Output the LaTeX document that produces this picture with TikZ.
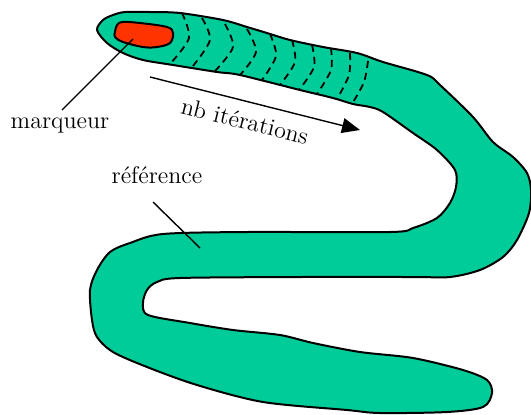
\documentclass[tikz,border=0pt]{standalone}
\usepackage{fontspec}
\usetikzlibrary{arrows.meta}
\definecolor{wormgreen}{RGB}{0,204,153}
\definecolor{markred}{RGB}{255,51,0}

\begin{document}
\begin{tikzpicture}[
    x=0.5pt, y=-0.5pt,
    body/.style={draw, line width=1pt, fill=wormgreen, line join=round},
    marker/.style={draw, line width=1pt, fill=markred},
    ring/.style={line width=0.9pt, dash pattern=on 3.5pt off 2.5pt},
    tag/.style={font=\fontsize{12}{14}\selectfont, inner sep=0pt},
    pointer/.style={line width=0.7pt},
    >={Triangle[length=9pt,width=7.5pt]}
  ]
  \useasboundingbox (0,0) rectangle (531,414);

  % Reference (the worm)
  \draw[body] plot[smooth cycle, tension=0.5] coordinates {
    (97,30) (103,20) (113,15) (125,12) (150,12) (180,13) (223,20) (247,27)
    (267,33) (290,40) (323,47) (357,53) (383,62) (427,75) (440,85) (473,117)
    (493,142) (513,157) (527,173) (531,190) (529,213) (517,240) (503,257)
    (480,270) (450,277) (413,277) (300,277) (180,278) (157,282) (147,290)
    (143,303) (148,315) (190,323) (233,330) (280,335) (313,343) (360,352)
    (413,358) (463,370) (487,380) (492,393) (483,407) (447,412) (380,413)
    (347,410) (263,402) (197,385) (147,367) (113,352) (97,337) (92,320)
    (90,290) (97,270) (110,252) (130,243) (163,234) (247,232) (390,232)
    (413,228) (437,218) (450,203) (456,187) (455,170) (437,150) (413,133)
    (383,112) (370,107) (353,104) (333,98) (300,90) (240,75) (217,72)
    (173,65) (143,60) (123,53) (107,43)};

  % Iterations
  \foreach \tx/\ty/\mx/\my/\bx/\by in {182/13/189/38/170/64, 202/18/210/40/193/66,
      225/24/233/47/215/71, 247/29/256/52/240/75, 270/34/276/56/262/80,
      292/40/295/62/280/85, 312/45/314/67/299/90, 331/48/331/70/317/94,
      350/53/349/75/337/99, 368/61/364/82/352/104} {
    \draw[ring] plot[smooth] coordinates {(\tx,\ty) (\mx,\my) (\bx,\by)};
  }

  % Marker
  \draw[marker] plot[smooth cycle, tension=0.6] coordinates {
    (115,32) (117,25) (123,22) (140,23) (167,27) (173,33) (170,43)
    (157,47) (143,47) (123,42) (115,37)};

  % Labels
  \node[tag] (marq) at (60,125) {marqueur};
  \node[tag] (ref) at (157,175) {référence};
  \node[tag, rotate=-14] (iter) at (245,121) {nb itérations};
  \coordinate (mfoot) at (62,110);
  \coordinate (mtip) at (133,39);
  \coordinate (rfoot) at (153,202);
  \coordinate (rtip) at (200,248);
  \coordinate (astart) at (150,77);
  \coordinate (aend) at (360,130);
  \draw[pointer] (mfoot) -- (mtip);
  \draw[pointer] (rfoot) -- (rtip);
  \draw[pointer, ->] (astart) -- (aend);
\end{tikzpicture}
\end{document}
